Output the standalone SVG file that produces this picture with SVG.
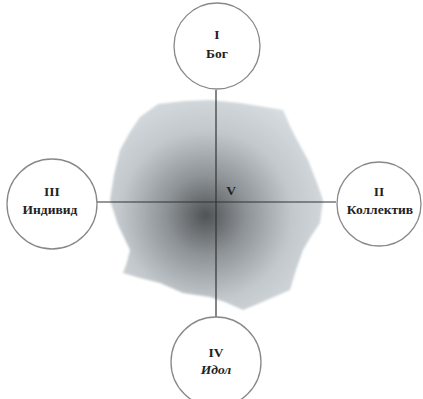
<svg xmlns="http://www.w3.org/2000/svg" width="423" height="399" viewBox="0 0 423 399">
<defs>
<radialGradient id="g" cx="0.45" cy="0.55" r="0.62">
<stop offset="0" stop-color="#505356"/>
<stop offset="0.3" stop-color="#8d9296"/>
<stop offset="0.65" stop-color="#c2c8cc"/>
<stop offset="1" stop-color="#d8dde1"/>
</radialGradient>
<filter id="blur"><feGaussianBlur stdDeviation="0.8"/></filter>
</defs>
<style>
.c{fill:#fff;stroke:#888;stroke-width:1.3}
.t{font-family:"Liberation Serif",serif;font-weight:bold;font-size:13.5px;fill:#222;text-anchor:middle}
.ln{stroke:#333;stroke-width:1.2;fill:none}
</style>
<rect width="423" height="399" fill="#fff"/>
<path id="blob" d="M158,104 L185,101 L210,100 L240,103 L283,110 L290,126 L297,140 L308,160 L317,183 L323,200 L320,223 L310,238 L303,250 L296,270 L290,290 L260,303 L243,310 L225,302 L210,297 L183,293 L160,283 L140,278 L123,273 L127,262 L130,250 L118,225 L110,200 L114,175 L120,150 L130,132 L140,117 Z" fill="url(#g)" filter="url(#blur)"/>
<g id="connectors">
<line class="ln" x1="216" y1="90" x2="216" y2="325"/>
<line class="ln" x1="97" y1="202" x2="336" y2="202"/>
</g>
<g id="n1">
<circle class="c" cx="217" cy="46" r="43"/>
<text class="t" x="217" y="39">I</text>
<text class="t" x="217" y="58">Бог</text>
</g>
<g id="n2">
<circle class="c" cx="379" cy="204" r="42"/>
<text class="t" x="379" y="196">II</text>
<text class="t" x="380" y="214">Коллектив</text>
</g>
<g id="n3">
<circle class="c" cx="52" cy="204" r="45"/>
<text class="t" x="52" y="196">III</text>
<text class="t" x="50" y="214">Индивид</text>
</g>
<g id="n4">
<circle class="c" cx="216" cy="362" r="45"/>
<text class="t" x="216" y="357">IV</text>
<text class="t" x="216" y="374" font-style="italic">Идол</text>
</g>
<g id="n5">
<text class="t" x="231" y="195">V</text>
</g>
</svg>
